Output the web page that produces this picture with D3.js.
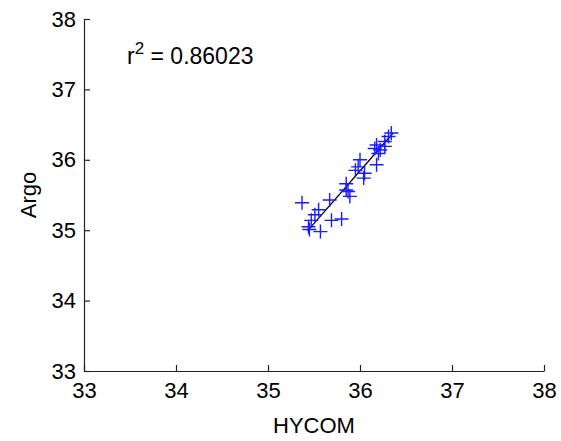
<!DOCTYPE html>
<html>
<head>
<meta charset="utf-8">
<script src="https://cdn.jsdelivr.net/npm/d3@7"></script>
<style>
  body { margin: 0; background: #fff; }
  text { font-family: "Liberation Sans", Arial, sans-serif; fill: #000; }
</style>
</head>
<body>
<div id="chart"></div>
<script>
// Data
const hycom = [35.37, 35.45, 35.55, 35.51, 35.47, 35.44, 35.57, 35.67, 35.69, 35.80,
  35.85, 35.89, 35.85, 35.87, 35.95, 35.98, 36.00, 36.05, 36.04, 36.18,
  36.16, 36.20, 36.18, 36.27, 36.31, 36.34, 36.27, 36.22];
const argo = [35.39, 35.01, 35.29, 35.22, 35.14, 35.05, 34.98, 35.43, 35.14, 35.16,
  35.57, 35.48, 35.66, 35.55, 35.85, 35.90, 36.00, 35.81, 35.74, 35.93,
  36.16, 36.09, 36.21, 36.26, 36.33, 36.38, 36.19, 36.14];
const fitX = [35.43, 36.36];
const fitY = [34.99, 36.38];
const xTicks = [33, 34, 35, 36, 37, 38];
const yTicks = [33, 34, 35, 36, 37, 38];
const rSquared = "0.86023";

const width = 561, height = 441;
const margin = { left: 84, right: 17, top: 19, bottom: 70 };

const svg = d3.select("#chart").append("svg")
  .attr("width", width)
  .attr("height", height);

const x = d3.scaleLinear().domain([33, 38]).range([margin.left, width - margin.right]);
const y = d3.scaleLinear().domain([33, 38]).range([height - margin.bottom, margin.top]);

// Axes (ticks point inward)
const xAxis = svg.append("g")
  .attr("transform", `translate(0,${y(33)})`)
  .call(d3.axisBottom(x).tickValues(xTicks).tickFormat(d3.format("d"))
    .tickSizeInner(-6).tickSizeOuter(0).tickPadding(11));
const yAxis = svg.append("g")
  .attr("transform", `translate(${x(33)},0)`)
  .call(d3.axisLeft(y).tickValues(yTicks).tickFormat(d3.format("d"))
    .tickSizeInner(-6).tickSizeOuter(0).tickPadding(8));

[xAxis, yAxis].forEach(g => {
  g.select(".domain").attr("stroke", "#222").attr("stroke-width", 1.2);
  g.selectAll(".tick line").attr("stroke", "#222").attr("stroke-width", 1.2);
  g.selectAll(".tick text")
    .style("font-family", "'Liberation Sans', Arial, sans-serif")
    .style("font-size", "22px")
    .attr("fill", "#000");
});

// Axis labels
svg.append("text")
  .attr("x", x(35.5))
  .attr("y", 433)
  .attr("text-anchor", "middle")
  .style("font-size", "22px")
  .text("HYCOM");

svg.append("text")
  .attr("transform", `translate(36,${y(35.5)}) rotate(-90)`)
  .attr("text-anchor", "middle")
  .style("font-size", "22px")
  .text("Argo");

// r^2 annotation
const ann = svg.append("text")
  .attr("x", 127)
  .attr("y", 64)
  .style("font-size", "23px");
ann.append("tspan").text("r");
ann.append("tspan").attr("dy", -10).style("font-size", "17px").text("2");
ann.append("tspan").attr("dy", 10).text(" = " + rSquared);

// Fit line
svg.append("line")
  .attr("x1", x(fitX[0])).attr("y1", y(fitY[0]))
  .attr("x2", x(fitX[1])).attr("y2", y(fitY[1]))
  .attr("stroke", "#000")
  .attr("stroke-width", 1.3);

// Plus markers
const pts = hycom.map((h, i) => ({ h, a: argo[i] }));
const s = 7;
svg.append("g").selectAll("path")
  .data(pts)
  .join("path")
  .attr("d", d => {
    const cx = x(d.h), cy = y(d.a);
    return `M${cx - s},${cy}H${cx + s}M${cx},${cy - s}V${cy + s}`;
  })
  .attr("stroke", "#1a1aff")
  .attr("stroke-width", 1.4)
  .attr("fill", "none");
</script>
</body>
</html>
